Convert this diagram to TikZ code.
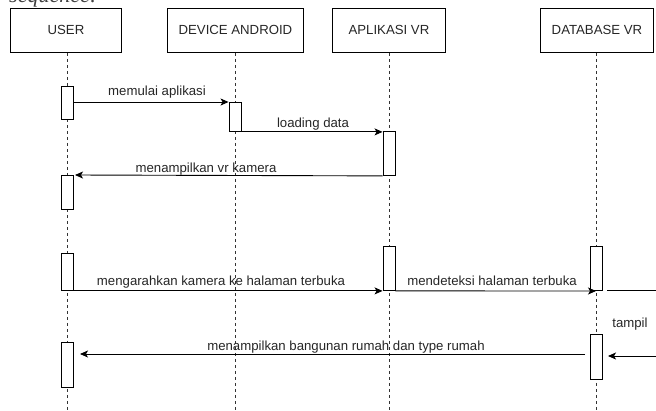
\documentclass[tikz,border=0pt]{standalone}
\usepackage{fontspec}
\setmainfont{Liberation Sans}
\newfontfamily\docserif{Liberation Serif}
\usetikzlibrary{arrows.meta}

\tikzset{
  x=1pt, y=-1pt,
  every node/.style={font=\fontsize{13.2}{15}\selectfont, text=black!85},
  actor/.style={draw, line width=0.9pt, minimum width=111pt, minimum height=44pt, inner sep=0pt, anchor=north west},
  lifeline/.style={draw=black!80, line width=0.9pt, dash pattern=on 3pt off 3pt},
  actbox/.style={draw, fill=white, line width=0.9pt, minimum width=12pt, inner sep=0pt, anchor=north},
  msg/.style={draw, line width=0.9pt, -{Stealth[length=8pt,width=7pt,inset=2pt]}},
  plainmsg/.style={draw, line width=0.9pt},
  msglabel/.style={inner sep=0pt, anchor=base}
}

\begin{document}
\begin{tikzpicture}
\useasboundingbox (0,0) rectangle (656,410);
\clip (0,0) rectangle (656,410);

% heading of the page above the diagram, mostly cut off at the top edge
\node[inner sep=0pt, anchor=base west, font=\docserif\itshape\fontsize{22}{24}\selectfont, text=black!75] (heading) at (9,2) {sequence:};

% participants
\node[actor] (usr) at (10,8) {USER};
\node[actor, minimum width=136pt] (dev) at (167,8) {DEVICE ANDROID};
\node[actor, minimum width=113pt] (app) at (332,8) {APLIKASI VR};
\node[actor, minimum width=113pt] (db) at (540,8) {DATABASE VR};

% lifelines
\coordinate (usrEnd) at (67,410);
\coordinate (devEnd) at (235,410);
\coordinate (appEnd) at (389,410);
\coordinate (dbEnd) at (596,410);
\draw[lifeline] (usr.south -| usrEnd) -- (usrEnd);
\draw[lifeline] (dev.south -| devEnd) -- (devEnd);
\draw[lifeline] (app.south -| appEnd) -- (appEnd);
\draw[lifeline] (db.south -| dbEnd) -- (dbEnd);

% activation bars
\node[actbox, minimum height=33pt] (ua1) at (67,86) {};
\node[actbox, minimum height=29pt] (da1) at (235,102) {};
\node[actbox, minimum height=44pt] (aa1) at (389,131) {};
\node[actbox, minimum height=34pt] (ua2) at (67,175) {};
\node[actbox, minimum height=37pt] (ua3) at (67,253) {};
\node[actbox, minimum height=44pt] (aa2) at (389,246) {};
\node[actbox, minimum height=44pt] (ba1) at (596,246) {};
\node[actbox, minimum height=45pt] (ba2) at (596,334) {};
\node[actbox, minimum height=45pt] (ua4) at (67,342) {};

% messages
\coordinate (m1s) at (ua1.east |- 0,102);
\draw[msg] (m1s) -- (m1s -| da1.west);
\node[msglabel] (l1) at (157,95) {memulai aplikasi};

\draw[msg] (da1.south east) -- (da1.south east -| aa1.west);
\node[msglabel] (l2) at (313,127) {loading data};

\coordinate (m3t) at (75,175);
\draw[msg] (aa1.south west) -- (m3t);
\node[msglabel] (l3) at (206,172) {menampilkan vr kamera};

\draw[msg] (ua3.south east) -- (ua3.south east -| aa2.west);
\node[msglabel] (l4) at (221,285) {mengarahkan kamera ke halaman terbuka};

\coordinate (m5t) at (596,291);
\draw[msg] (aa2.south east) -- (m5t);
\node[msglabel] (l5) at (492,285) {mendeteksi halaman terbuka};

% self call of the database, running past the right edge
\coordinate (selfOut) at (660,290);
\coordinate (selfIn) at (660,356);
\coordinate (selfInTip) at (608,356);
\draw[plainmsg] (607,290) -- (selfOut);
\draw[msg] (selfIn) -- (selfInTip);
\node[msglabel] (l7) at (630,327) {tampil};

\coordinate (m6s) at (585,354);
\coordinate (m6t) at (80,354);
\draw[msg] (m6s) -- (m6t);
\node[msglabel] (l6) at (346,350) {menampilkan bangunan rumah dan type rumah};
\end{tikzpicture}
\end{document}
